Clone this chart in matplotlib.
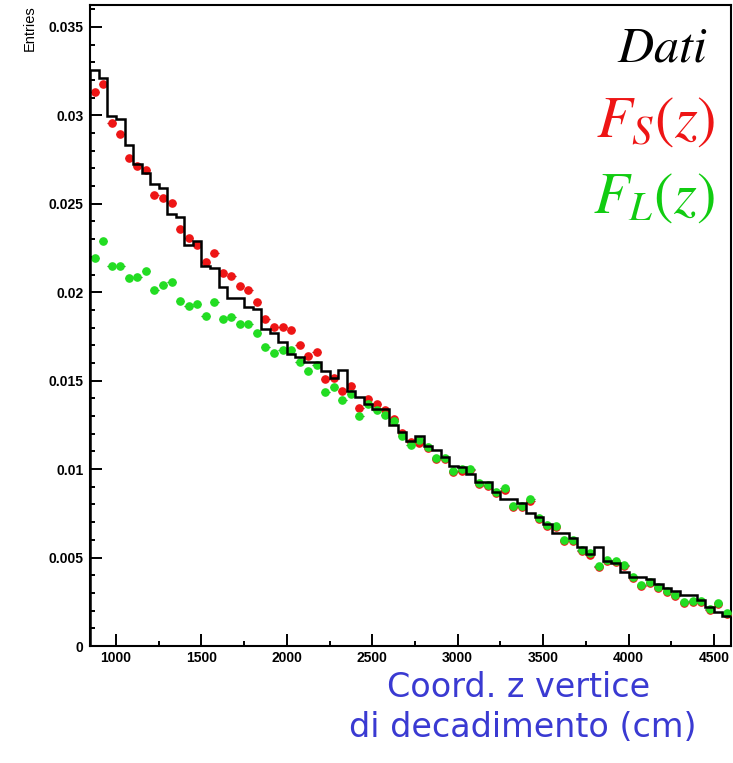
import numpy as np
import matplotlib
matplotlib.use("Agg")
import matplotlib.pyplot as plt
from matplotlib.ticker import MultipleLocator

plt.rcParams['mathtext.fontset'] = 'stix'

# ---- data ----
z_start = 850
bin_width = 50
n_bins = 75

dati = [0.03254, 0.03213, 0.02996, 0.02981, 0.02833, 0.02724, 0.02677, 0.02614, 0.02592, 0.02445,
        0.02423, 0.02267, 0.02291, 0.02150, 0.02137, 0.02031, 0.01965, 0.01965, 0.01919, 0.01906,
        0.01793, 0.01768, 0.01718, 0.01652, 0.01633, 0.01604, 0.01604, 0.01552, 0.01516, 0.01561,
        0.01440, 0.01410, 0.01370, 0.01340, 0.01340, 0.01250, 0.01210, 0.01160, 0.01190, 0.01130,
        0.01110, 0.01070, 0.01020, 0.01010, 0.00970, 0.00930, 0.00930, 0.00870, 0.00830, 0.00830,
        0.00810, 0.00750, 0.00730, 0.00690, 0.00640, 0.00640, 0.00610, 0.00560, 0.00520, 0.00560,
        0.00480, 0.00470, 0.00420, 0.00390, 0.00390, 0.00380, 0.00350, 0.00330, 0.00310, 0.00290,
        0.00290, 0.00260, 0.00220, 0.00190, 0.00170]

f_s = [0.03134, 0.03177, 0.02959, 0.02893, 0.02759, 0.02716, 0.02693, 0.02552, 0.02535, 0.02502,
       0.02360, 0.02306, 0.02268, 0.02173, 0.02223, 0.02107, 0.02092, 0.02033, 0.02013, 0.01943,
       0.01847, 0.01802, 0.01802, 0.01785, 0.01702, 0.01637, 0.01661, 0.01507, 0.01516, 0.01441,
       0.01469, 0.01345, 0.01398, 0.01370, 0.01336, 0.01285, 0.01204, 0.01153, 0.01150, 0.01118,
       0.01060, 0.01058, 0.00985, 0.00990, 0.00995, 0.00918, 0.00905, 0.00866, 0.00884, 0.00786,
       0.00784, 0.00822, 0.00719, 0.00677, 0.00671, 0.00593, 0.00596, 0.00537, 0.00517, 0.00448,
       0.00479, 0.00475, 0.00451, 0.00386, 0.00338, 0.00357, 0.00326, 0.00307, 0.00283, 0.00242,
       0.00250, 0.00251, 0.00202, 0.00235, 0.00180]

f_l = [0.02193, 0.02289, 0.02150, 0.02150, 0.02082, 0.02086, 0.02118, 0.02015, 0.02041, 0.02060,
       0.01949, 0.01924, 0.01932, 0.01864, 0.01943, 0.01849, 0.01861, 0.01819, 0.01819, 0.01770,
       0.01689, 0.01659, 0.01676, 0.01674, 0.01603, 0.01554, 0.01590, 0.01435, 0.01463, 0.01392,
       0.01422, 0.01303, 0.01366, 0.01337, 0.01308, 0.01271, 0.01189, 0.01138, 0.01162, 0.01125,
       0.01065, 0.01065, 0.00991, 0.00999, 0.01003, 0.00923, 0.00911, 0.00871, 0.00891, 0.00791,
       0.00790, 0.00830, 0.00724, 0.00683, 0.00677, 0.00598, 0.00602, 0.00542, 0.00523, 0.00453,
       0.00485, 0.00481, 0.00457, 0.00391, 0.00344, 0.00363, 0.00331, 0.00312, 0.00288, 0.00247,
       0.00256, 0.00256, 0.00207, 0.00241, 0.00185]

x_ticks = [1000, 1500, 2000, 2500, 3000, 3500, 4000, 4500]
y_ticks = [0, 0.005, 0.01, 0.015, 0.02, 0.025, 0.03, 0.035]
y_tick_labels = ['0', '0.005', '0.01', '0.015', '0.02', '0.025', '0.03', '0.035']

edges = z_start + bin_width * np.arange(n_bins + 1)
centers = 0.5 * (edges[:-1] + edges[1:])

# ---- figure ----
W, H = 733, 763
fig = plt.figure(figsize=(W / 100, H / 100), dpi=100)
ax = fig.add_axes([90.4 / W, 1 - 646 / H, (731 - 90.4) / W, (646 - 5) / H])

red = '#ee1515'
green = '#22dd22'

ax.errorbar(centers, f_s, xerr=bin_width / 2, fmt='o', ms=5.2, color=red,
            ecolor='#8a1010', elinewidth=0.9, capsize=0, zorder=3)
ax.errorbar(centers, f_l, xerr=bin_width / 2, fmt='o', ms=5.2, color=green,
            ecolor='#137a13', elinewidth=0.9, capsize=0, zorder=4)
ax.stairs(dati, edges, color='black', lw=1.8, zorder=5)

ax.set_xlim(edges[0], edges[-1])
ax.set_ylim(0, 0.03624)

ax.set_xticks(x_ticks)
ax.set_xticklabels([str(v) for v in x_ticks])
ax.set_yticks(y_ticks)
ax.set_yticklabels(y_tick_labels)
ax.xaxis.set_minor_locator(MultipleLocator(250))
ax.yaxis.set_minor_locator(MultipleLocator(0.001))

ax.tick_params(axis='both', which='both', direction='in', top=False, right=False, width=1.4)
ax.tick_params(axis='both', which='major', length=8.6)
ax.tick_params(axis='both', which='minor', length=3.6)
ax.tick_params(axis='x', which='major', pad=3.5)
ax.tick_params(axis='y', which='major', pad=5)
for lab in ax.get_xticklabels() + ax.get_yticklabels():
    lab.set_fontfamily('Liberation Sans')
    lab.set_fontweight('bold')
    lab.set_fontsize(10)

for s in ax.spines.values():
    s.set_linewidth(1.5)

# y axis title
fig.text(30 / W, 1 - 5 / H, 'Entries', rotation=90, ha='center', va='top',
         fontfamily='Liberation Sans', fontsize=10.5)

# legend-like labels
fig.text(708 / W, 1 - 62 / H, r'$Dati$', ha='right', va='baseline', fontsize=36, color='black')
fig.text(715 / W, 1 - 137 / H, r'$F_S(z)$', ha='right', va='baseline', fontsize=42, color=red)
fig.text(715 / W, 1 - 213 / H, r'$F_L(z)$', ha='right', va='baseline', fontsize=42, color='#11cc11')

# x axis title
blue = '#3a3ad2'
fig.text(519 / W, 1 - 697 / H, 'Coord. z vertice', ha='center', va='baseline',
         fontfamily='DejaVu Sans', fontsize=24, color=blue)
fig.text(523 / W, 1 - 737 / H, 'di decadimento (cm)', ha='center', va='baseline',
         fontfamily='DejaVu Sans', fontsize=24, color=blue)

fig.savefig('out.png', dpi=100)
